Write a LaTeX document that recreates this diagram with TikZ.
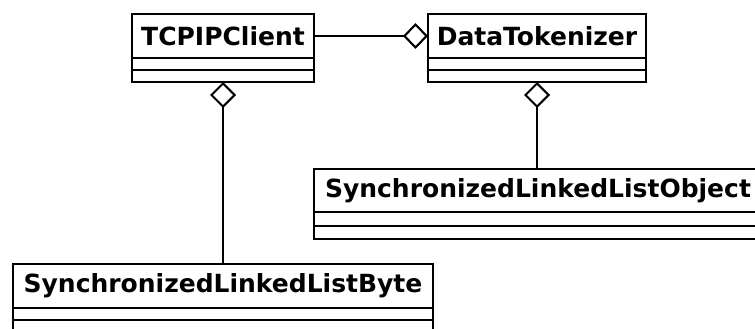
\documentclass[tikz,border=0pt]{standalone}
\usepackage{fontspec}
\setmainfont{DejaVu Sans}
\usetikzlibrary{arrows.meta}
\begin{document}
\begin{tikzpicture}[x=1pt,y=-1pt,
  umlhead/.style={draw, line width=2.3pt, fill=white, minimum height=44pt,
    inner sep=0pt, outer sep=0pt, font=\fontsize{25}{29}\selectfont\bfseries},
  umlpart/.style={draw, line width=2.3pt, fill=white, minimum height=12pt,
    inner sep=0pt, outer sep=0pt, anchor=north},
  link/.style={line width=2.1pt},
  aggstart/.style={link, {Diamond[open, length=26pt, width=26pt]}-},
  aggend/.style={link, -{Diamond[open, length=25pt, width=26pt]}}
]
\useasboundingbox (0,0) rectangle (755,329);
\clip (0,0) rectangle (755,329);

% TCPIPClient
\node[umlhead, minimum width=182pt] (tcp) at (223,36) {TCPIPClient};
\node[umlpart, minimum width=182pt] (tcpA) at (tcp.south) {};
\node[umlpart, minimum width=182pt] (tcpO) at (tcpA.south) {};

% DataTokenizer
\node[umlhead, minimum width=218pt] (dt) at (537,36) {DataTokenizer};
\node[umlpart, minimum width=218pt] (dtA) at (dt.south) {};
\node[umlpart, minimum width=218pt] (dtO) at (dtA.south) {};

% SynchronizedLinkedListObject
\node[umlhead, minimum width=448pt, minimum height=43pt] (obj) at (538,190.5) {SynchronizedLinkedListObject};
\node[umlpart, minimum width=448pt, minimum height=14pt] (objA) at (obj.south) {};
\node[umlpart, minimum width=448pt, minimum height=13pt] (objO) at (objA.south) {};

% SynchronizedLinkedListByte
\node[umlhead, minimum width=420pt] (byte) at (223,286) {SynchronizedLinkedListByte};
\node[umlpart, minimum width=420pt] (byteA) at (byte.south) {};
\node[umlpart, minimum width=420pt] (byteO) at (byteA.south) {};

% aggregations
\draw[aggend] (tcp.east) -- (dt.west);
\draw[aggstart] (tcpO.south) -- (byte.north);
\draw[aggstart] (dtO.south) -- (dtO.south |- obj.north);
\end{tikzpicture}
\end{document}
